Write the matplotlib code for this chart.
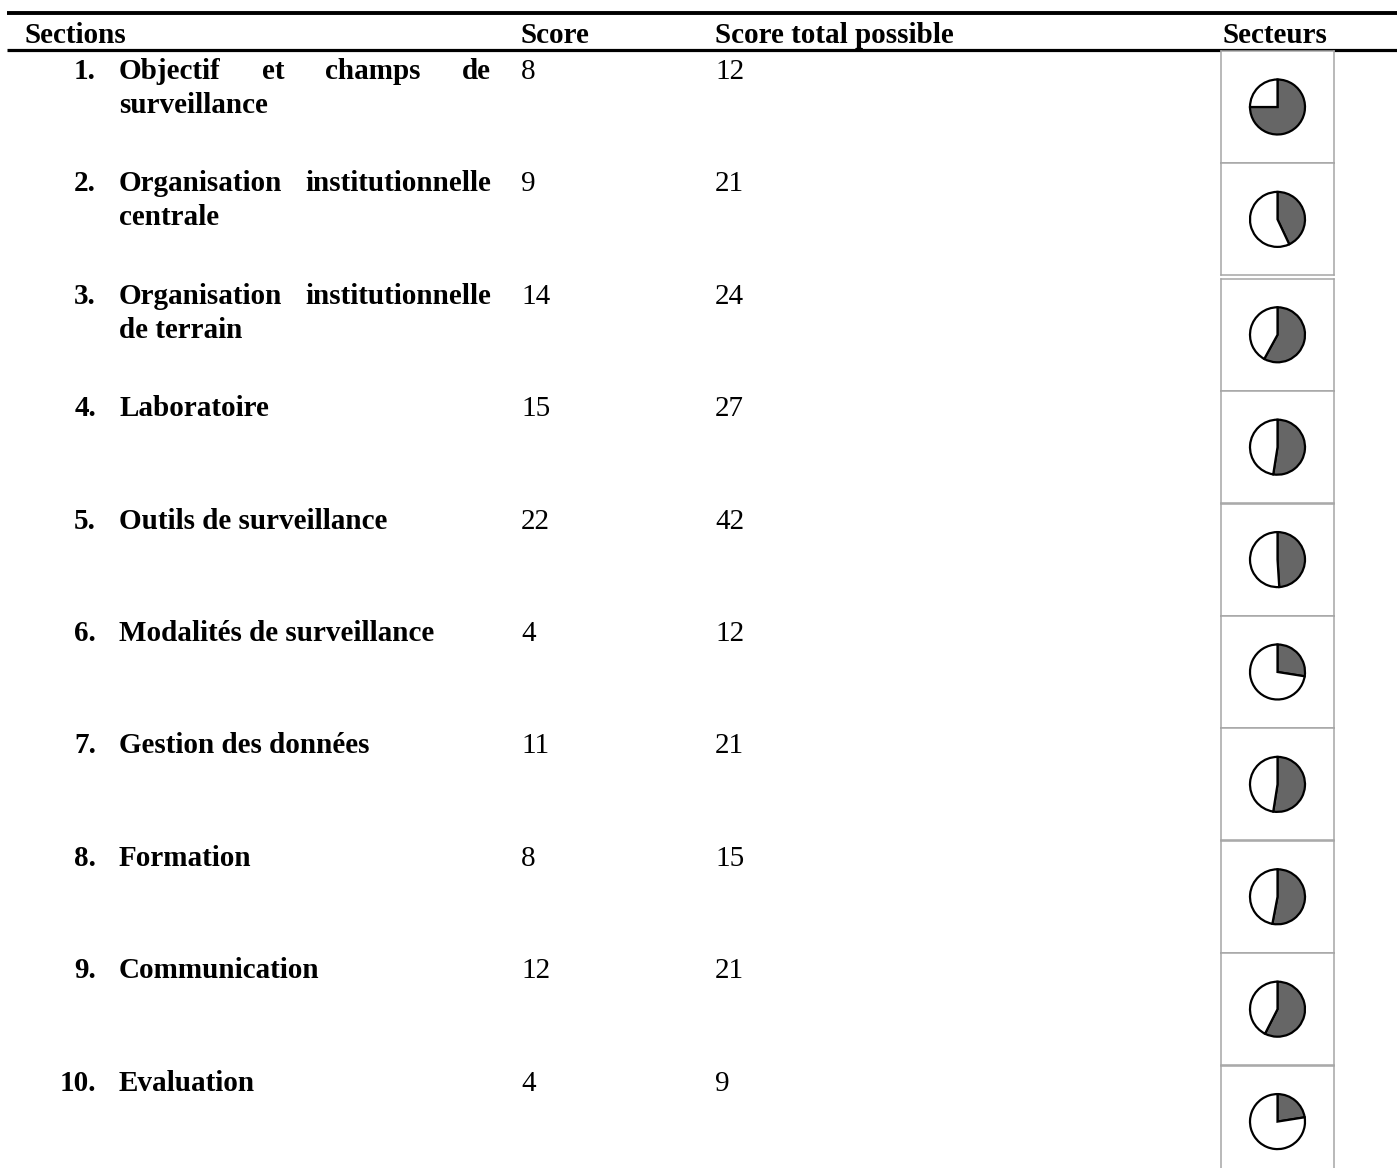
"""Score table for the surveillance evaluation, one pie per section.

Sections are listed with their score and the maximum possible score; the
right-hand column shows a small pie of the achieved share for each section.
"""
import matplotlib

matplotlib.use("Agg")
import matplotlib.pyplot as plt

W, H = 1397, 1168

SECTIONS = [
    "Objectif et champs de surveillance",
    "Organisation institutionnelle centrale",
    "Organisation institutionnelle de terrain",
    "Laboratoire",
    "Outils de surveillance",
    "Modalités de surveillance",
    "Gestion des données",
    "Formation",
    "Communication",
    "Evaluation",
]
SCORES = [8, 9, 14, 15, 22, 4, 11, 8, 12, 4]
TOTALS = [12, 21, 24, 27, 42, 12, 21, 15, 21, 9]
# filled share of each sector pie
SECTOR_SHARE = [0.75, 0.43, 0.58, 0.525, 0.49, 0.275, 0.525, 0.53, 0.575, 0.225]
HEADERS = ["Sections", "Score", "Score total possible", "Secteurs"]

plt.rcParams["font.family"] = ["Liberation Serif", "DejaVu Serif"]
FS = 21

fig = plt.figure(figsize=(W / 100, H / 100), dpi=100)
ax = fig.add_axes([0, 0, 1, 1])
ax.set_xlim(0, W)
ax.set_ylim(H, 0)
ax.axis("off")
renderer = fig.canvas.get_renderer()


def text_width(s, **kw):
    t = ax.text(0, 0, s, fontsize=FS, **kw)
    bb = t.get_window_extent(renderer)
    t.remove()
    return bb.width  # 1 data unit == 1 pixel


def wrap(words, width, **kw):
    lines, cur = [], []
    for w in words:
        trial = " ".join(cur + [w])
        if cur and text_width(trial, **kw) > width:
            lines.append(cur)
            cur = [w]
        else:
            cur.append(w)
    lines.append(cur)
    return lines


def draw_line(words, x0, x1, y, justify, **kw):
    if not justify or len(words) == 1:
        ax.text(x0, y, " ".join(words), fontsize=FS, va="baseline", **kw)
        return
    widths = [text_width(w, **kw) for w in words]
    gap = (x1 - x0 - sum(widths)) / (len(words) - 1)
    x = x0
    for w, wd in zip(words, widths):
        ax.text(x, y, w, fontsize=FS, va="baseline", **kw)
        x += wd + gap


# header rules and labels
ax.plot([7, W], [13, 13], color="black", lw=2.8, solid_capstyle="butt")
ax.plot([7, W], [50, 50], color="black", lw=2.3, solid_capstyle="butt")
for label, x in zip(HEADERS, [24, 521, 715, 1223]):
    ax.text(x, 43, label, fontsize=FS, fontweight="bold", va="baseline")

ROW0, STEP, LEAD = 79, 112.4, 34
TXT_X0, TXT_X1 = 119, 491

for i, (title, sc, tot) in enumerate(zip(SECTIONS, SCORES, TOTALS)):
    y = ROW0 + STEP * i
    ax.text(96, y, f"{i + 1}.", fontsize=FS, fontweight="bold",
            va="baseline", ha="right")
    lines = wrap(title.split(), TXT_X1 - TXT_X0, fontweight="bold")
    for k, words in enumerate(lines):
        draw_line(words, TXT_X0, TXT_X1, y + LEAD * k,
                  justify=k < len(lines) - 1, fontweight="bold")
    ax.text(521, y, str(sc), fontsize=FS, va="baseline")
    ax.text(715, y, str(tot), fontsize=FS, va="baseline")

# sector pies, each in its own framed cell
BOX_X, BOX_W, BOX_H = 1221, 113, 112
for i, share in enumerate(SECTOR_SHARE):
    top = 51 + STEP * i + (3 if i >= 2 else 0)
    pax = fig.add_axes([BOX_X / W, 1 - (top + BOX_H) / H, BOX_W / W, BOX_H / H])
    pax.pie([share, 1 - share], colors=["#666666", "white"], startangle=90,
            counterclock=False, radius=27.5,
            wedgeprops=dict(edgecolor="black", linewidth=1.6))
    pax.set_xlim(-BOX_W / 2, BOX_W / 2)
    pax.set_ylim(-BOX_H / 2, BOX_H / 2)
    pax.set_frame_on(True)
    pax.set_xticks([])
    pax.set_yticks([])
    for sp in pax.spines.values():
        sp.set_visible(True)
        sp.set_color("#a6a6a6")
        sp.set_linewidth(1.1)

fig.savefig("out.png", dpi=100)
